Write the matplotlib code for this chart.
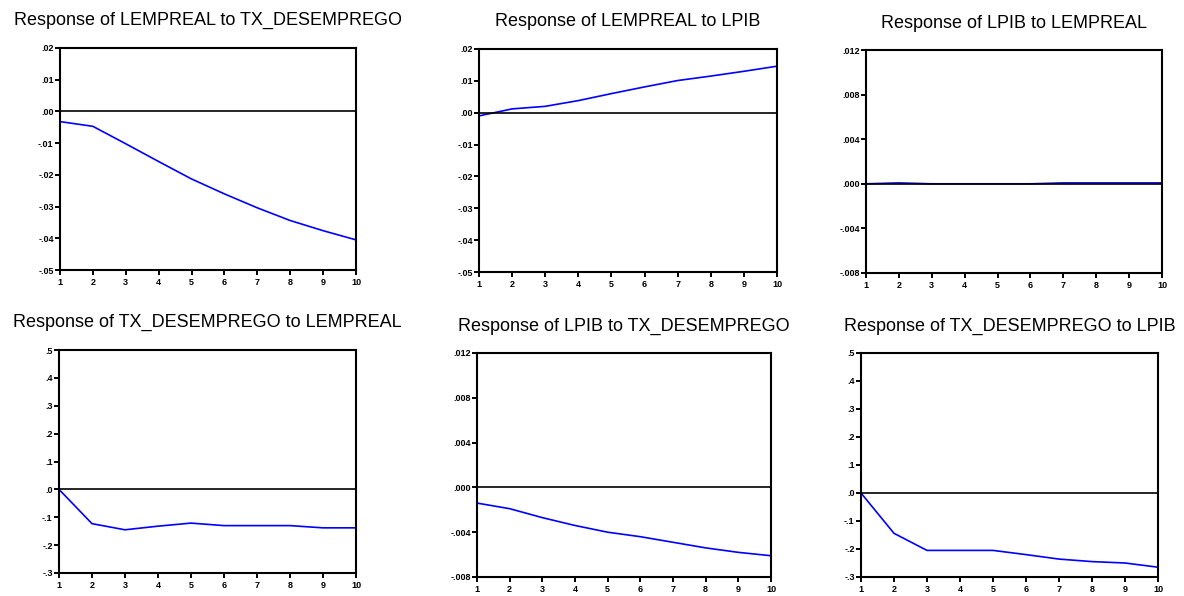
import matplotlib.pyplot as plt
import numpy as np

plt.rcParams['font.family'] = ['Liberation Sans', 'DejaVu Sans']

# horizontes (periodos)
periodos = np.arange(1, 11)

# respostas ao impulso
lempreal_tx = [-0.0032, -0.0047, -0.0102, -0.0158, -0.0213, -0.0260, -0.0304, -0.0344, -0.0376, -0.0405]
lempreal_lpib = [-0.0010, 0.0012, 0.0020, 0.0038, 0.0060, 0.0081, 0.0101, 0.0115, 0.0130, 0.0146]
lpib_lempreal = [0.0, 0.00008, 0.0, 0.0, 0.0, 0.0, 0.00008, 0.00008, 0.00008, 0.00008]
tx_lempreal = [0.0, -0.123, -0.145, -0.132, -0.121, -0.130, -0.130, -0.130, -0.138, -0.138]
lpib_tx = [-0.0014, -0.0019, -0.0027, -0.0034, -0.0040, -0.0044, -0.0049, -0.0054, -0.0058, -0.0061]
tx_lpib = [0.0, -0.144, -0.205, -0.205, -0.205, -0.220, -0.236, -0.245, -0.250, -0.265]

titulos = ["Response of LEMPREAL to TX_DESEMPREGO", "Response of LEMPREAL to LPIB",
           "Response of LPIB to LEMPREAL", "Response of TX_DESEMPREGO to LEMPREAL",
           "Response of LPIB to TX_DESEMPREGO", "Response of TX_DESEMPREGO to LPIB"]

ticks_a = [0.02, 0.01, 0.0, -0.01, -0.02, -0.03, -0.04, -0.05]
rot_a = [".02", ".01", ".00", "-.01", "-.02", "-.03", "-.04", "-.05"]
ticks_b = [0.012, 0.008, 0.004, 0.0, -0.004, -0.008]
rot_b = [".012", ".008", ".004", ".000", "-.004", "-.008"]
ticks_c = [0.5, 0.4, 0.3, 0.2, 0.1, 0.0, -0.1, -0.2, -0.3]
rot_c = [".5", ".4", ".3", ".2", ".1", ".0", "-.1", "-.2", "-.3"]

series = [lempreal_tx, lempreal_lpib, lpib_lempreal, tx_lempreal, lpib_tx, tx_lpib]
eixos_y = [(ticks_a, rot_a), (ticks_a, rot_a), (ticks_b, rot_b),
           (ticks_c, rot_c), (ticks_b, rot_b), (ticks_c, rot_c)]

# caixas dos graficos em pixels: esquerda, topo, direita, baixo
caixas = [(60, 48, 356, 270), (479, 49, 777, 272), (866, 50, 1162, 273),
          (59, 350, 356, 573), (477, 353, 771, 577), (861, 353, 1158, 577)]
# altura (pixels) do centro de cada titulo
y_titulo = [20, 22, 23, 322, 326, 326]

W, H = 1184, 596
fig = plt.figure(figsize=(W / 100, H / 100), dpi=100)

for i in range(6):
    x0, y0, x1, y1 = caixas[i]
    ax = fig.add_axes([x0 / W, 1 - y1 / H, (x1 - x0) / W, (y1 - y0) / H])
    ax.plot(periodos, series[i], color='#0000ff', lw=1.2)
    ax.axhline(0, color='black', lw=1.2)
    ticks, rots = eixos_y[i]
    ax.set_xlim(1, 10)
    ax.set_ylim(min(ticks), max(ticks))
    ax.set_yticks(ticks)
    ax.set_yticklabels(rots)
    ax.set_xticks(periodos)
    ax.set_xticklabels([str(p) for p in periodos])
    ax.tick_params(axis='both', direction='out', length=3.5, width=1.4, labelsize=6.5, pad=1)
    ax.tick_params(axis='x', pad=2.5)
    for lab in ax.get_xticklabels() + ax.get_yticklabels():
        lab.set_fontweight('bold')
    for s in ax.spines.values():
        s.set_linewidth(1.5)
    fig.text((x0 + x1) / 2 / W, 1 - y_titulo[i] / H, titulos[i], ha='center', va='center', fontsize=13)

fig.savefig('out.png', dpi=100)
